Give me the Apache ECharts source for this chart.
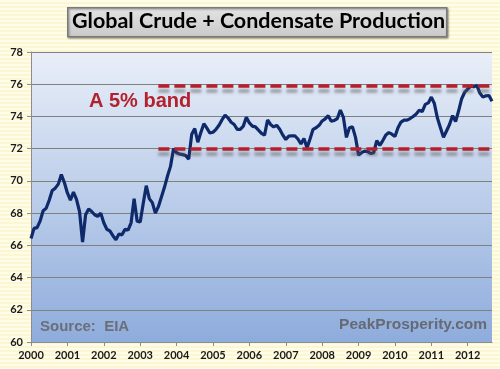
<!DOCTYPE html>
<html>
<head>
<meta charset="utf-8">
<script src="https://cdn.jsdelivr.net/npm/echarts@6/dist/echarts.min.js"></script>
<style>
html,body{margin:0;padding:0;background:#fffde6;}
#chart{width:500px;height:369px;}
</style>
</head>
<body>
<div id="chart"></div>
<script>
// ---- data ----
const startYear = 2000;
const production = [
66.42,67.05,67.1,67.5,68.15,68.3,68.8,69.4,69.55,69.8,70.4,69.9,
69.25,68.8,69.3,68.85,68.1,66.2,67.9,68.25,68.1,67.9,67.8,68.0,
67.4,67.0,66.9,66.6,66.35,66.7,66.65,67.0,66.95,67.4,68.9,67.5,
67.45,68.6,69.7,68.9,68.65,68.0,68.4,69.0,69.6,70.3,70.9,72.0,
71.75,71.67,71.63,71.58,71.35,72.9,73.25,72.4,73.0,73.55,73.27,72.97,
73.02,73.2,73.45,73.8,74.08,73.9,73.64,73.5,73.2,73.2,73.4,73.95,
73.6,73.4,73.35,73.15,72.95,72.84,73.78,73.5,73.35,73.45,73.2,72.85,
72.57,72.78,72.8,72.8,72.6,72.3,72.63,72.05,72.6,73.2,73.3,73.45,
73.72,73.85,74.05,73.7,73.75,73.87,74.4,73.95,72.7,73.3,73.35,72.7,
71.6,71.75,71.85,71.82,71.7,71.75,72.5,72.2,72.5,72.85,73.0,72.9,
72.75,73.3,73.65,73.77,73.77,73.87,74.0,74.15,74.38,74.3,74.75,74.84,
75.2,74.8,73.9,73.3,72.7,73.1,73.5,74.05,73.68,74.35,75.1,75.5,
75.7,75.88,75.84,75.93,75.45,75.2,75.28,75.3,74.95
];
const bandUpper = 75.9;
const bandLower = 72.0;
const bandStartIndex = 42; // Jul 2003
const yTicks = [60,62,64,66,68,70,72,74,76,78];

const months = production.map((_, i) => {
  const y = startYear + Math.floor(i / 12);
  const m = (i % 12) + 1;
  return y + '-' + (m < 10 ? '0' + m : m);
});

// striped background pattern
const pat = document.createElement('canvas');
pat.width = 8; pat.height = 4;
const pctx = pat.getContext('2d');
pctx.fillStyle = '#fffde8'; pctx.fillRect(0,0,8,4);
pctx.fillStyle = '#fbf7d4'; pctx.fillRect(0,2,8,2);

const chart = echarts.init(document.getElementById('chart'), null, {renderer:'canvas'});
const lastIdx = production.length - 1;

chart.setOption({
  animation: false,
  backgroundColor: {image: pat, repeat: 'repeat'},
  grid: {
    left: 31, right: 8, top: 52, bottom: 27,
    show: true,
    borderWidth: 0,
    backgroundColor: {
      type: 'linear', x: 0, y: 0, x2: 0, y2: 1,
      colorStops: [{offset: 0, color: '#e9eff8'}, {offset: 1, color: '#8eacdc'}]
    }
  },
  xAxis: {
    type: 'category',
    data: months,
    boundaryGap: false,
    axisLine: {lineStyle: {color: '#8c8c8c'}},
    axisTick: {show: true, interval: (i) => i % 12 === 0, length: 4, lineStyle: {color: '#8c8c8c'}},
    axisLabel: {
      interval: (i) => i % 12 === 0,
      formatter: (v) => v.slice(0, 4),
      fontFamily: 'Lato', fontWeight: 'bold', fontSize: 11, color: '#1a1a1a', margin: 8
    },
    splitLine: {show: false}
  },
  yAxis: {
    type: 'value',
    min: yTicks[0], max: yTicks[yTicks.length - 1], interval: 2,
    axisLine: {show: true, lineStyle: {color: '#8c8c8c'}},
    axisTick: {show: true, length: 4, lineStyle: {color: '#8c8c8c'}},
    axisLabel: {fontFamily: 'Lato', fontWeight: 'bold', fontSize: 11, color: '#1a1a1a', margin: 8},
    splitLine: {lineStyle: {color: '#808080', width: 1}}
  },
  series: [{
    type: 'line',
    data: production,
    showSymbol: false,
    lineStyle: {color: '#0f2a6a', width: 3.2},
    z: 3,
    markLine: {
      silent: true,
      symbol: 'none',
      label: {show: false},
      lineStyle: {
        color: '#b3212c', width: 3.5, type: [11, 5],
        shadowColor: 'rgba(90,90,90,0.55)', shadowBlur: 3, shadowOffsetY: 5
      },
      data: [
        [{coord: [bandStartIndex, bandUpper]}, {coord: [lastIdx, bandUpper]}],
        [{coord: [bandStartIndex, bandLower]}, {coord: [lastIdx, bandLower]}]
      ]
    }
  }],
  graphic: [
    {
      type: 'rect', left: 67, top: 7, z: 10,
      shape: {width: 379, height: 29},
      style: {
        fill: {type: 'linear', x: 0, y: 0, x2: 0, y2: 1,
               colorStops: [{offset: 0, color: '#e4e4e4'}, {offset: 1, color: '#c9c9c9'}]},
        stroke: '#7a7a7a', lineWidth: 1.5,
        shadowColor: 'rgba(0,0,0,0.35)', shadowBlur: 2, shadowOffsetX: 1, shadowOffsetY: 1
      }
    },
    {
      type: 'text', left: 72, top: 10, z: 11,
      style: {text: 'Global Crude + Condensate Production', fontFamily: 'Lato', fontWeight: 'bold',
              fontSize: 21.5, fill: '#000'}
    },
    {
      type: 'text', left: 89, top: 91, z: 11,
      style: {text: 'A 5% band', fontFamily: 'Liberation Sans', fontWeight: 'bold', fontSize: 20, fill: '#b3212c'}
    },
    {
      type: 'text', left: 40, top: 319, z: 11,
      style: {text: 'Source:  EIA', fontFamily: 'Liberation Sans', fontWeight: 'bold', fontSize: 15, fill: '#6a6f7a'}
    },
    {
      type: 'text', right: 13, top: 317, z: 11,
      style: {text: 'PeakProsperity.com', fontFamily: 'Liberation Sans', fontWeight: 'bold', fontSize: 15.5, fill: '#656a75'}
    }
  ]
});
</script>
</body>
</html>
